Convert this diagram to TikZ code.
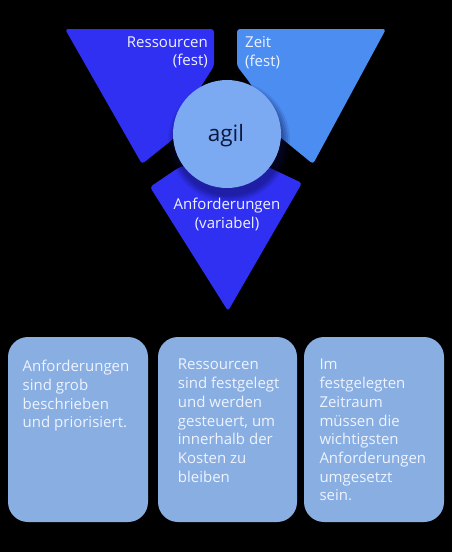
\documentclass[tikz,border=0pt]{standalone}
\usepackage{fontspec}
\setmainfont{Open Sans}
\begin{document}
\definecolor{deepblue}{RGB}{48,48,242}
\definecolor{skyblue}{RGB}{76,141,242}
\definecolor{hubblue}{RGB}{123,170,242}
\definecolor{cardblue}{RGB}{136,174,226}
\definecolor{inktext}{RGB}{13,24,60}
\definecolor{paletext}{RGB}{238,243,255}
\definecolor{shadowink}{RGB}{10,10,70}
\begin{tikzpicture}[x=1pt,y=-1pt,
  wedge/.style={rounded corners=3pt},
  card/.style={fill=cardblue,rounded corners=20pt},
  cardtext/.style={anchor=north west,inner sep=0pt,align=left,text=paletext,
    font=\fontsize{15}{18.7}\selectfont},
  wedgetext/.style={inner sep=0pt,text=paletext,
    font=\fontsize{15}{18.5}\selectfont}]
  % canvas
  \fill[black] (0,0) rectangle (452,552);
  \useasboundingbox (0,0) rectangle (452,552);

  % three wedges around the hub
  \fill[wedge,deepblue] (65,29) -- (214,29) -- (214,66) -- (200,88) -- (190,112)
    -- (172,140) -- (142,164) -- cycle;
  \fill[wedge,skyblue] (237,29) -- (386,29) -- (313,164) -- (280,137) -- (265,110)
    -- (250,83) -- (237,66) -- cycle;
  \fill[wedge,deepblue] (150,187) -- (178,168) -- (227,150) -- (268,167)
    -- (302,183) -- (228,311) -- cycle;

  % soft shadow under the hub
  \foreach \r/\o in {61/0.10,59/0.12,57/0.14,55/0.16} {
    \fill[shadowink,opacity=\o] (229,141) circle[radius=\r];
  }

  % hub
  \fill[hubblue] (227,134) circle[radius=54];
  \node (hub) [anchor=base,inner sep=0pt,text=inktext,
    font=\fontsize{22.5}{26}\selectfont] at (226,141.7) {agil};

  % wedge labels
  \node (res) [wedgetext,anchor=north east,align=right] at (208,36.3)
    {Ressourcen\\(fest)};
  \node (zeit) [wedgetext,anchor=north west,align=left] at (245,36.3)
    {Zeit\\(fest)};
  \node (anf) [wedgetext,anchor=north,align=center] at (227,198)
    {Anforderungen\\(variabel)};

  % description cards
  \fill[card] (8,337) rectangle (148,522);
  \fill[card] (158,337) rectangle (297,522);
  \fill[card] (304,337) rectangle (444,522);

  \node (c1) [cardtext] at (22.5,360)
    {Anforderungen\\sind grob\\beschrieben\\und priorisiert.};
  \node (c2) [cardtext] at (177.7,359)
    {Ressourcen\\sind festgelegt\\und werden\\gesteuert, um\\innerhalb der\\Kosten zu\\bleiben};
  \node (c3) [cardtext] at (319.3,359)
    {Im\\festgelegten\\Zeitraum\\müssen die\\wichtigsten\\Anforderungen\\umgesetzt\\sein.};
\end{tikzpicture}
\end{document}
